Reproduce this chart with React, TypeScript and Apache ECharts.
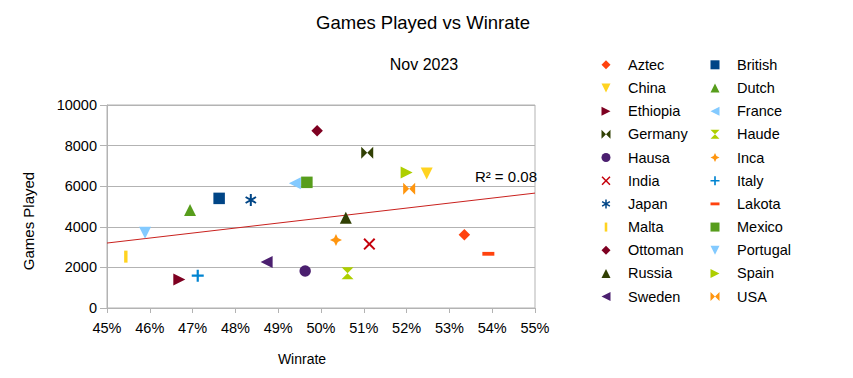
import React, { useEffect, useRef } from "react";
import * as echarts from "echarts";

const chartTitle = "Games Played vs Winrate";
const chartSubtitle = "Nov 2023";
const xAxisName = "Winrate";
const yAxisName = "Games Played";

const factions = [
  "Aztec", "British", "China", "Dutch", "Ethiopia", "France", "Germany", "Haude",
  "Hausa", "Inca", "India", "Italy", "Japan", "Lakota", "Malta", "Mexico",
  "Ottoman", "Portugal", "Russia", "Spain", "Sweden", "USA",
];
const winrates = [
  53.35, 47.62, 52.47, 46.94, 46.69, 49.39, 51.08, 50.62,
  49.63, 50.35, 51.13, 47.12, 48.36, 53.91, 45.44, 49.67,
  49.91, 45.89, 50.58, 52.0, 48.73, 52.06,
];
const gamesPlayed = [
  3610, 5400, 6630, 4830, 1410, 6140, 7650, 1710,
  1820, 3350, 3150, 1590, 5320, 2670, 2530, 6190,
  8730, 3710, 4450, 6680, 2270, 5880,
];
const colors = [
  "#ff420e", "#004586", "#ffd320", "#579d1c", "#7e0021", "#83caff", "#314004", "#aecf00",
  "#4b1f6f", "#ff950e", "#c5000b", "#0084d1", "#004586", "#ff420e", "#ffd320", "#579d1c",
  "#7e0021", "#83caff", "#314004", "#aecf00", "#4b1f6f", "#ff950e",
];
const shapes = [
  "diamond", "square", "down", "up", "right", "left", "bowtie", "hourglass",
  "circle", "star", "x", "plus", "asterisk", "hbar", "vbar", "square",
  "diamond", "down", "up", "right", "left", "bowtie",
];

const xMin = 45, xMax = 55, xStep = 1;
const yMin = 0, yMax = 10000, yStep = 2000;

// every shape is drawn in a 12x12 box (the bare moves pin the box for thin bars)
const shapePaths: Record<string, string> = {
  square: "M0 0H12V12H0Z",
  diamond: "M6 0L12 6L6 12L0 6Z",
  down: "M0 0H12L6 12Z",
  up: "M6 0L12 12H0Z",
  right: "M0 0L12 6L0 12Z",
  left: "M12 0V12L0 6Z",
  bowtie: "M0 0L6 6L0 12Z M12 0L12 12L6 6Z",
  hourglass: "M0 0H12L6 6Z M6 6L12 12H0Z",
  circle: "M6 0A6 6 0 1 1 6 12A6 6 0 1 1 6 0Z",
  star: "M6 0L7.9 4.1L12 6L7.9 7.9L6 12L4.1 7.9L0 6L4.1 4.1Z",
  x: "M0 1.4L1.4 0L6 4.6L10.6 0L12 1.4L7.4 6L12 10.6L10.6 12L6 7.4L1.4 12L0 10.6L4.6 6Z",
  plus: "M4.9 0H7.1V4.9H12V7.1H7.1V12H4.9V7.1H0V4.9H4.9Z",
  asterisk:
    "M5 0H7V12H5Z M0.304 3.866L1.304 2.134L11.696 8.134L10.696 9.866Z M1.304 9.866L0.304 8.134L10.696 2.134L11.696 3.866Z",
  hbar: "M0 0M12 12M0 4.1H12V7.9H0Z",
  vbar: "M0 0M12 12M4.3 0H7.7V12H4.3Z",
};
const shapeSizes: Record<string, number> = {
  square: 11.5,
  circle: 11.5,
  diamond: 11.5,
};

const FONT = "Liberation Sans";

function regression(xs: number[], ys: number[]) {
  const n = xs.length;
  const mx = xs.reduce((a, b) => a + b, 0) / n;
  const my = ys.reduce((a, b) => a + b, 0) / n;
  let sxy = 0, sxx = 0, syy = 0;
  for (let i = 0; i < n; i++) {
    sxy += (xs[i] - mx) * (ys[i] - my);
    sxx += (xs[i] - mx) ** 2;
    syy += (ys[i] - my) ** 2;
  }
  const slope = sxy / sxx;
  const intercept = my - slope * mx;
  const r2 = (sxy * sxy) / (sxx * syy);
  return { slope, intercept, r2 };
}

export default function App() {
  const ref = useRef<HTMLDivElement>(null);

  useEffect(() => {
    if (!ref.current) return;
    const chart = echarts.init(ref.current, undefined, { renderer: "svg" });
    const { slope, intercept, r2 } = regression(winrates, gamesPlayed);

    const scatterSeries = factions.map((name, i) => ({
      name,
      type: "scatter",
      data: [[winrates[i], gamesPlayed[i]]],
      symbol: "path://" + shapePaths[shapes[i]],
      symbolSize: shapeSizes[shapes[i]] || 12,
      symbolKeepAspect: true,
      itemStyle: { color: colors[i], opacity: 1 },
      z: 3,
    }));

    const trend = {
      name: "trend",
      type: "line",
      data: [
        [xMin, intercept + slope * xMin],
        [xMax, intercept + slope * xMax],
      ],
      showSymbol: false,
      symbol: "none",
      lineStyle: { color: "#c9211e", width: 1 },
      silent: true,
      z: 2,
    };

    const col1 = factions.filter((_, i) => i % 2 === 0);
    const col2 = factions.filter((_, i) => i % 2 === 1);
    const legendCommon = {
      orient: "vertical",
      top: 57.3,
      padding: 0,
      itemWidth: 34,
      itemHeight: 9,
      itemGap: 8.18,
      symbolKeepAspect: true,
      selectedMode: false,
      textStyle: { fontSize: 14.5, color: "#000", fontFamily: FONT, lineHeight: 14 },
    };

    const textStyle = (size: number, align: string) => ({
      fill: "#000",
      fontSize: size,
      fontFamily: FONT,
      align,
      verticalAlign: "middle",
      textAlign: align,
      textVerticalAlign: "middle",
    });

    chart.setOption({
      animation: false,
      backgroundColor: "#fff",
      textStyle: { fontFamily: FONT },
      grid: {
        left: 107,
        right: 853 - 535,
        top: 105,
        bottom: 378 - 308,
        show: true,
        borderColor: "#b3b3b3",
        borderWidth: 1,
      },
      xAxis: {
        type: "value",
        min: xMin,
        max: xMax,
        interval: xStep,
        axisLine: { show: true, lineStyle: { color: "#b3b3b3" } },
        axisTick: { show: true, length: 5, lineStyle: { color: "#b3b3b3" } },
        splitLine: { show: false },
        axisLabel: {
          color: "#000",
          fontSize: 14.5,
          fontFamily: FONT,
          margin: 12,
          formatter: (v: number) => `${v}%`,
        },
      },
      yAxis: {
        type: "value",
        min: yMin,
        max: yMax,
        interval: yStep,
        axisLine: { show: true, lineStyle: { color: "#b3b3b3" } },
        axisTick: { show: true, length: 7, lineStyle: { color: "#b3b3b3" } },
        splitLine: { show: true, lineStyle: { color: "#b3b3b3", width: 1 } },
        axisLabel: {
          color: "#000",
          fontSize: 14.5,
          fontFamily: FONT,
          margin: 10,
          formatter: (v: number) => String(v),
        },
      },
      legend: [
        { ...legendCommon, left: 601.5, data: col1 },
        { ...legendCommon, left: 710.5, data: col2 },
      ],
      graphic: [
        { type: "text", x: 423, y: 22, style: { text: chartTitle, ...textStyle(18.5, "center") } },
        { type: "text", x: 424, y: 64, style: { text: chartSubtitle, ...textStyle(16, "center") } },
        { type: "text", x: 302, y: 359, style: { text: xAxisName, ...textStyle(14, "center") } },
        {
          type: "text",
          x: 28,
          y: 221,
          rotation: Math.PI / 2,
          style: { text: yAxisName, ...textStyle(15, "center") },
        },
        {
          type: "text",
          x: 537,
          y: 176,
          style: { text: `R² = ${r2.toFixed(2)}`, ...textStyle(15, "right") },
        },
      ],
      series: [trend, ...scatterSeries],
    });

    return () => chart.dispose();
  }, []);

  return (
    <div
      ref={ref}
      style={{ position: "absolute", left: 0, top: 0, width: 853, height: 378 }}
    />
  );
}
